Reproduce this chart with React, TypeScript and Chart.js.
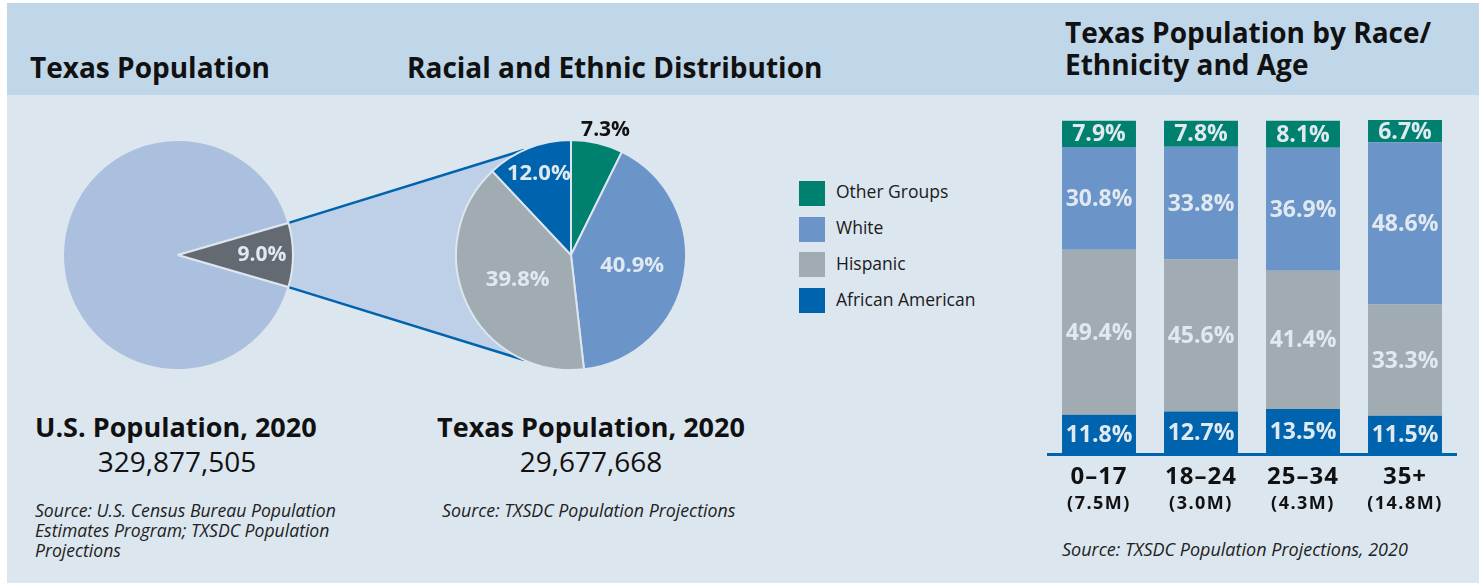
import React, { useEffect, useRef } from "react";
import { Chart, registerables } from "chart.js";
Chart.register(...registerables);

// ---------- data ----------
const usLabels = ["Rest of U.S.", "Texas"];
const usValues = [91.0, 9.0];

const raceLabels = ["Other Groups", "White", "Hispanic", "African American"];
const texasValues = [7.3, 40.9, 39.8, 12.0];

const ageGroups = ["0–17", "18–24", "25–34", "35+"];
const ageTotals = ["(7.5M)", "(3.0M)", "(4.3M)", "(14.8M)"];
const otherByAge = [7.9, 7.8, 8.1, 6.7];
const whiteByAge = [30.8, 33.8, 36.9, 48.6];
const hispanicByAge = [49.4, 45.6, 41.4, 33.3];
const africanByAge = [11.8, 12.7, 13.5, 11.5];

// ---------- styles ----------
const FONT = "'Open Sans', 'Noto Sans', sans-serif";
const TEAL = "#00816f";
const WHITE_C = "#6b95c8";
const HISP = "#a0acb2";
const AFR = "#0063ad";
const US_REST = "#abc0de";
const TX_SLICE = "#646a71";
const CONE = "#bdd0e7";
const BORDER = "#dde6ee";
const LIGHT = "#e1e9f0";
const HEADER_BG = "#c0d7ea";
const BODY_BG = "#dce6ef";
const INK = "#111111";
const raceColors = [TEAL, WHITE_C, HISP, AFR];

const pct = (v: number) => v.toFixed(1) + "%";

function Txt(props: {
  x: number; base: number; size: number; weight?: number; italic?: boolean;
  text: string; align?: "left" | "center"; ls?: number; sx?: number; color?: string;
}) {
  const { x, base, size, weight = 400, italic, text, align = "left", ls = 0, sx = 1, color = INK } = props;
  const top = base - 0.888 * size;
  const style: React.CSSProperties = {
    position: "absolute",
    top,
    left: align === "center" ? x - 400 : x,
    width: align === "center" ? 800 : undefined,
    textAlign: align,
    whiteSpace: "nowrap",
    fontFamily: FONT,
    fontSize: size,
    lineHeight: `${size}px`,
    fontWeight: weight,
    fontStyle: italic ? "italic" : "normal",
    letterSpacing: ls,
    color,
    transform: sx !== 1 ? `scaleX(${sx})` : undefined,
    transformOrigin: align === "center" ? "50% 50%" : "0 50%",
  };
  return <div style={style}>{text}</div>;
}

function makePieLabelPlugin(id: string) {
  return {
    id,
    afterDatasetsDraw(chart: any, _a: any, opts: any) {
      const { ctx } = chart;
      const meta = chart.getDatasetMeta(0);
      const vals = chart.data.datasets[0].data as number[];
      meta.data.forEach((arc: any, i: number) => {
        if (!opts.show[i]) return;
        const mid = (arc.startAngle + arc.endAngle) / 2 + (opts.shift ? opts.shift[i] : 0);
        const r = arc.outerRadius * opts.radius[i];
        const x = arc.x + Math.cos(mid) * r;
        const y = arc.y + Math.sin(mid) * r;
        ctx.save();
        ctx.font = `700 ${opts.size[i]}px ${FONT}`;
        ctx.fillStyle = opts.color[i];
        ctx.textAlign = "center";
        ctx.textBaseline = "middle";
        ctx.fillText(pct(vals[i]), x, y);
        ctx.restore();
      });
    },
  };
}

export default function App() {
  const usRef = useRef<HTMLCanvasElement>(null);
  const txRef = useRef<HTMLCanvasElement>(null);
  const barRef = useRef<HTMLCanvasElement>(null);

  useEffect(() => {
    const usCanvas = usRef.current!;
    const txCanvas = txRef.current!;

    const usSliceAngle = (usValues[1] / 100) * 360;
    const usChart = new Chart(usCanvas, {
      type: "pie",
      data: {
        labels: usLabels,
        datasets: [{
          data: usValues,
          backgroundColor: [US_REST, TX_SLICE],
          borderColor: BORDER,
          borderWidth: 2,
          hoverOffset: 0,
        }],
      },
      options: {
        animation: false,
        responsive: false,
        rotation: 90 + usSliceAngle / 2,
        events: [],
        plugins: {
          legend: { display: false },
          tooltip: { enabled: false },
          usLabels: { show: [false, true], radius: [0, 0.73], size: [0, 21], color: [LIGHT, LIGHT] },
        } as any,
      },
      plugins: [makePieLabelPlugin("usLabels")],
    });

    const conePlugin = {
      id: "cone",
      beforeDatasetsDraw(chart: any) {
        const ctx = chart.ctx;
        const usArc: any = usChart.getDatasetMeta(0).data[1];
        const txArc: any = chart.getDatasetMeta(0).data[0];
        if (!usArc || !txArc) return;
        const dx = usCanvas.offsetLeft - txCanvas.offsetLeft;
        const dy = usCanvas.offsetTop - txCanvas.offsetTop;
        const ux = usArc.x + dx, uy = usArc.y + dy, uR = usArc.outerRadius + 1;
        const a0 = usArc.startAngle, a1 = usArc.endAngle;
        const p0 = [ux + Math.cos(a0) * uR, uy + Math.sin(a0) * uR];
        const p1 = [ux + Math.cos(a1) * uR, uy + Math.sin(a1) * uR];
        const spread = (114 * Math.PI) / 180;
        const tR = txArc.outerRadius;
        const q0 = [txArc.x + Math.cos(-spread) * tR, txArc.y + Math.sin(-spread) * tR];
        const q1 = [txArc.x + Math.cos(spread) * tR, txArc.y + Math.sin(spread) * tR];
        ctx.save();
        ctx.beginPath();
        ctx.moveTo(p0[0], p0[1]);
        ctx.lineTo(q0[0], q0[1]);
        ctx.lineTo(q1[0], q1[1]);
        ctx.lineTo(p1[0], p1[1]);
        ctx.arc(ux, uy, uR, a1, a0, true);
        ctx.closePath();
        ctx.fillStyle = CONE;
        ctx.fill();
        ctx.strokeStyle = AFR;
        ctx.lineWidth = 2.5;
        ctx.beginPath();
        ctx.moveTo(p0[0], p0[1]);
        ctx.lineTo(q0[0], q0[1]);
        ctx.moveTo(p1[0], p1[1]);
        ctx.lineTo(q1[0], q1[1]);
        ctx.stroke();
        ctx.restore();
      },
    };

    const txChart = new Chart(txCanvas, {
      type: "pie",
      data: {
        labels: raceLabels,
        datasets: [{
          data: texasValues,
          backgroundColor: raceColors,
          borderColor: BORDER,
          borderWidth: 2,
          hoverOffset: 0,
        }],
      },
      options: {
        animation: false,
        responsive: false,
        events: [],
        layout: { padding: { left: 285, top: 24, right: 23, bottom: 19 } },
        plugins: {
          legend: { display: false },
          tooltip: { enabled: false },
          txLabels: {
            show: [true, true, true, true],
            radius: [1.13, 0.54, 0.51, 0.76],
            shift: [0.04, 0, 0, 0],
            size: [21, 22, 22, 22],
            color: [INK, LIGHT, LIGHT, LIGHT],
          },
        } as any,
      },
      plugins: [conePlugin, makePieLabelPlugin("txLabels")],
    });

    const sums = ageGroups.map((_, i) => otherByAge[i] + whiteByAge[i] + hispanicByAge[i] + africanByAge[i]);
    const maxSum = Math.max(...sums);

    const barLabelPlugin = {
      id: "barLabels",
      afterDatasetsDraw(chart: any) {
        const ctx = chart.ctx;
        ctx.save();
        ctx.font = `700 23px ${FONT}`;
        ctx.fillStyle = LIGHT;
        ctx.textAlign = "center";
        ctx.textBaseline = "middle";
        chart.data.datasets.forEach((ds: any, di: number) => {
          chart.getDatasetMeta(di).data.forEach((bar: any, i: number) => {
            ctx.fillText(pct(ds.data[i]), bar.x, (bar.y + bar.base) / 2 + 1);
          });
        });
        ctx.restore();
      },
    };

    const ageAxisPlugin = {
      id: "ageAxis",
      afterDraw(chart: any) {
        const ctx = chart.ctx;
        const xs = chart.scales.x;
        const bottom = chart.chartArea.bottom;
        ctx.save();
        ctx.fillStyle = INK;
        ctx.textAlign = "center";
        ctx.textBaseline = "alphabetic";
        ageGroups.forEach((g, i) => {
          const x = xs.getPixelForValue(i);
          ctx.font = `700 24px ${FONT}`;
          (ctx as any).letterSpacing = "1px";
          ctx.fillText(g, x, bottom + 30);
          ctx.font = `700 18px ${FONT}`;
          (ctx as any).letterSpacing = "1.5px";
          ctx.fillText(ageTotals[i], x, bottom + 55);
        });
        ctx.restore();
      },
    };

    const barChart = new Chart(barRef.current!, {
      type: "bar",
      data: {
        labels: ageGroups,
        datasets: [
          { label: "African American", data: africanByAge, backgroundColor: AFR },
          { label: "Hispanic", data: hispanicByAge, backgroundColor: HISP },
          { label: "White", data: whiteByAge, backgroundColor: WHITE_C },
          { label: "Other Groups", data: otherByAge, backgroundColor: TEAL },
        ],
      },
      options: {
        animation: false,
        responsive: false,
        events: [],
        layout: { padding: { left: 18, right: 23, top: 10, bottom: 76 } },
        datasets: { bar: { barPercentage: 0.725, categoryPercentage: 1 } },
        plugins: { legend: { display: false }, tooltip: { enabled: false } },
        scales: {
          x: {
            stacked: true,
            z: 1,
            grid: { display: false, drawTicks: false },
            ticks: { display: false },
            border: { display: true, color: AFR, width: 3 },
          },
          y: { stacked: true, display: false, min: 0, max: maxSum },
        },
      },
      plugins: [barLabelPlugin, ageAxisPlugin],
    });

    return () => {
      txChart.destroy();
      usChart.destroy();
      barChart.destroy();
    };
  }, []);

  return (
    <div style={{ position: "fixed", left: 0, top: 0, width: 1479, height: 583, background: "#ffffff", overflow: "hidden" }}>
      <div style={{ position: "absolute", left: 7, top: 3, width: 1472, height: 580, background: BODY_BG }} />
      <div style={{ position: "absolute", left: 7, top: 3, width: 1472, height: 92, background: HEADER_BG }} />

      <Txt x={30} base={78} size={28} weight={700} text="Texas Population" />
      <Txt x={407} base={78} size={28} weight={700} text="Racial and Ethnic Distribution" />
      <Txt x={1065} base={43} size={28} weight={700} text="Texas Population by Race/" />
      <Txt x={1065} base={75} size={28} weight={700} text="Ethnicity and Age" />

      <canvas ref={usRef} width={232} height={232} style={{ position: "absolute", left: 62, top: 139 }} />
      <canvas ref={txRef} width={540} height={275} style={{ position: "absolute", left: 170, top: 115 }} />
      <canvas ref={barRef} width={449} height={420} style={{ position: "absolute", left: 1030, top: 110 }} />

      {raceLabels.map((l, i) => (
        <React.Fragment key={l}>
          <div style={{ position: "absolute", left: 799, top: 181 + i * 35.7, width: 26, height: 25, background: raceColors[i] }} />
          <Txt x={836} base={199 + i * 35.7} size={17.5} text={l} color="#1a1a1a" />
        </React.Fragment>
      ))}

      <Txt x={35} base={437} size={27} weight={700} text="U.S. Population, 2020" />
      <Txt x={177} base={472} size={28} align="center" text="329,877,505" />
      <Txt x={35} base={518} size={17.6} italic text="Source: U.S. Census Bureau Population" color="#222" />
      <Txt x={35} base={538} size={17.6} italic text="Estimates Program; TXSDC Population" color="#222" />
      <Txt x={35} base={558} size={17.6} italic text="Projections" color="#222" />

      <Txt x={591} base={437} size={27} weight={700} align="center" text="Texas Population, 2020" />
      <Txt x={591} base={472} size={28} align="center" text="29,677,668" />
      <Txt x={442} base={518} size={17.8} italic text="Source: TXSDC Population Projections" color="#222" />

      <Txt x={1062} base={556} size={18} italic text="Source: TXSDC Population Projections, 2020" color="#222" />
    </div>
  );
}
